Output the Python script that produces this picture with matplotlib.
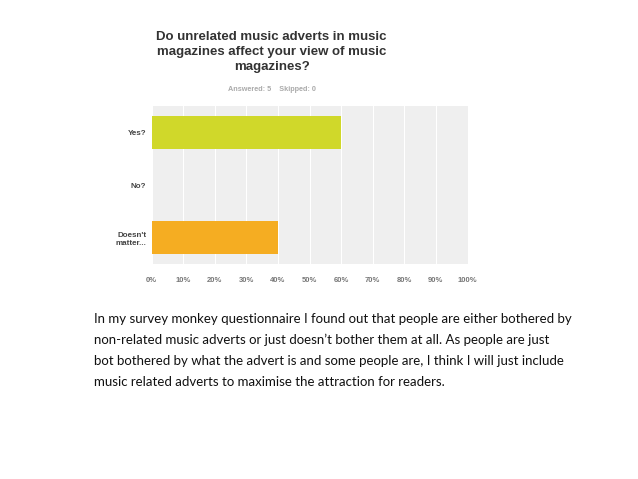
import matplotlib
matplotlib.use("Agg")
import matplotlib.pyplot as plt

categories = ["Yes?", "No?", "Doesn't\nmatter..."]
values = [60, 0, 40]
colors = ["#d0d82a", "#d0d82a", "#f5ad22"]
xticks = [0, 10, 20, 30, 40, 50, 60, 70, 80, 90, 100]
xticklabels = [f"{t}%" for t in xticks]

title = "Do unrelated music adverts in music\nmagazines affect your view of music\nmagazines?"
subtitle = "Answered: 5    Skipped: 0"
paragraph = ("In my survey monkey questionnaire I found out that people are either bothered by\n"
             "non-related music adverts or just doesn\u2019t bother them at all. As people are just\n"
             "bot bothered by what the advert is and some people are, I think I will just include\n"
             "music related adverts to maximise the attraction for readers.")

W, H = 638, 479
fig = plt.figure(figsize=(W/100, H/100), dpi=100)
fig.patch.set_facecolor("white")

left, right, top, bottom = 151.7, 467.5, 106, 264
ax = fig.add_axes([left/W, 1-bottom/H, (right-left)/W, (bottom-top)/H])
ax.set_facecolor("#efefef")
ax.barh(range(len(categories)), values, height=0.63, color=colors, zorder=3)
ax.set_xlim(0, 100)
ax.set_ylim(2.5, -0.5)
ax.set_xticks(xticks)
ax.set_xticklabels(xticklabels, fontsize=5.5, color="#777777", family="Liberation Sans", fontweight="bold")
ax.set_yticks(range(len(categories)))
ax.set_yticklabels(categories, fontsize=5.8, color="#444444", family="Liberation Sans", fontweight="bold")
ax.tick_params(length=0, axis="x", pad=9)
ax.tick_params(length=0, axis="y", pad=4)
ax.grid(axis="x", color="white", linewidth=0.8, zorder=1)
for s in ax.spines.values():
    s.set_visible(False)

fig.text(271.7/W, 1-52.3/H, title, ha="center", va="center", fontsize=9.5,
         fontweight="bold", color="#333333", family="Liberation Sans", linespacing=1.35)
fig.text(272/W, 1-89/H, subtitle, ha="center", va="center", fontsize=5.2,
         color="#aaaaaa", family="Liberation Sans", fontweight="bold")
fig.text(94/W, 1-350.5/H, paragraph, ha="left", va="center", fontsize=9.5,
         color="#111111", family="Lato", linespacing=1.88)

fig.savefig("out.png", dpi=100)
